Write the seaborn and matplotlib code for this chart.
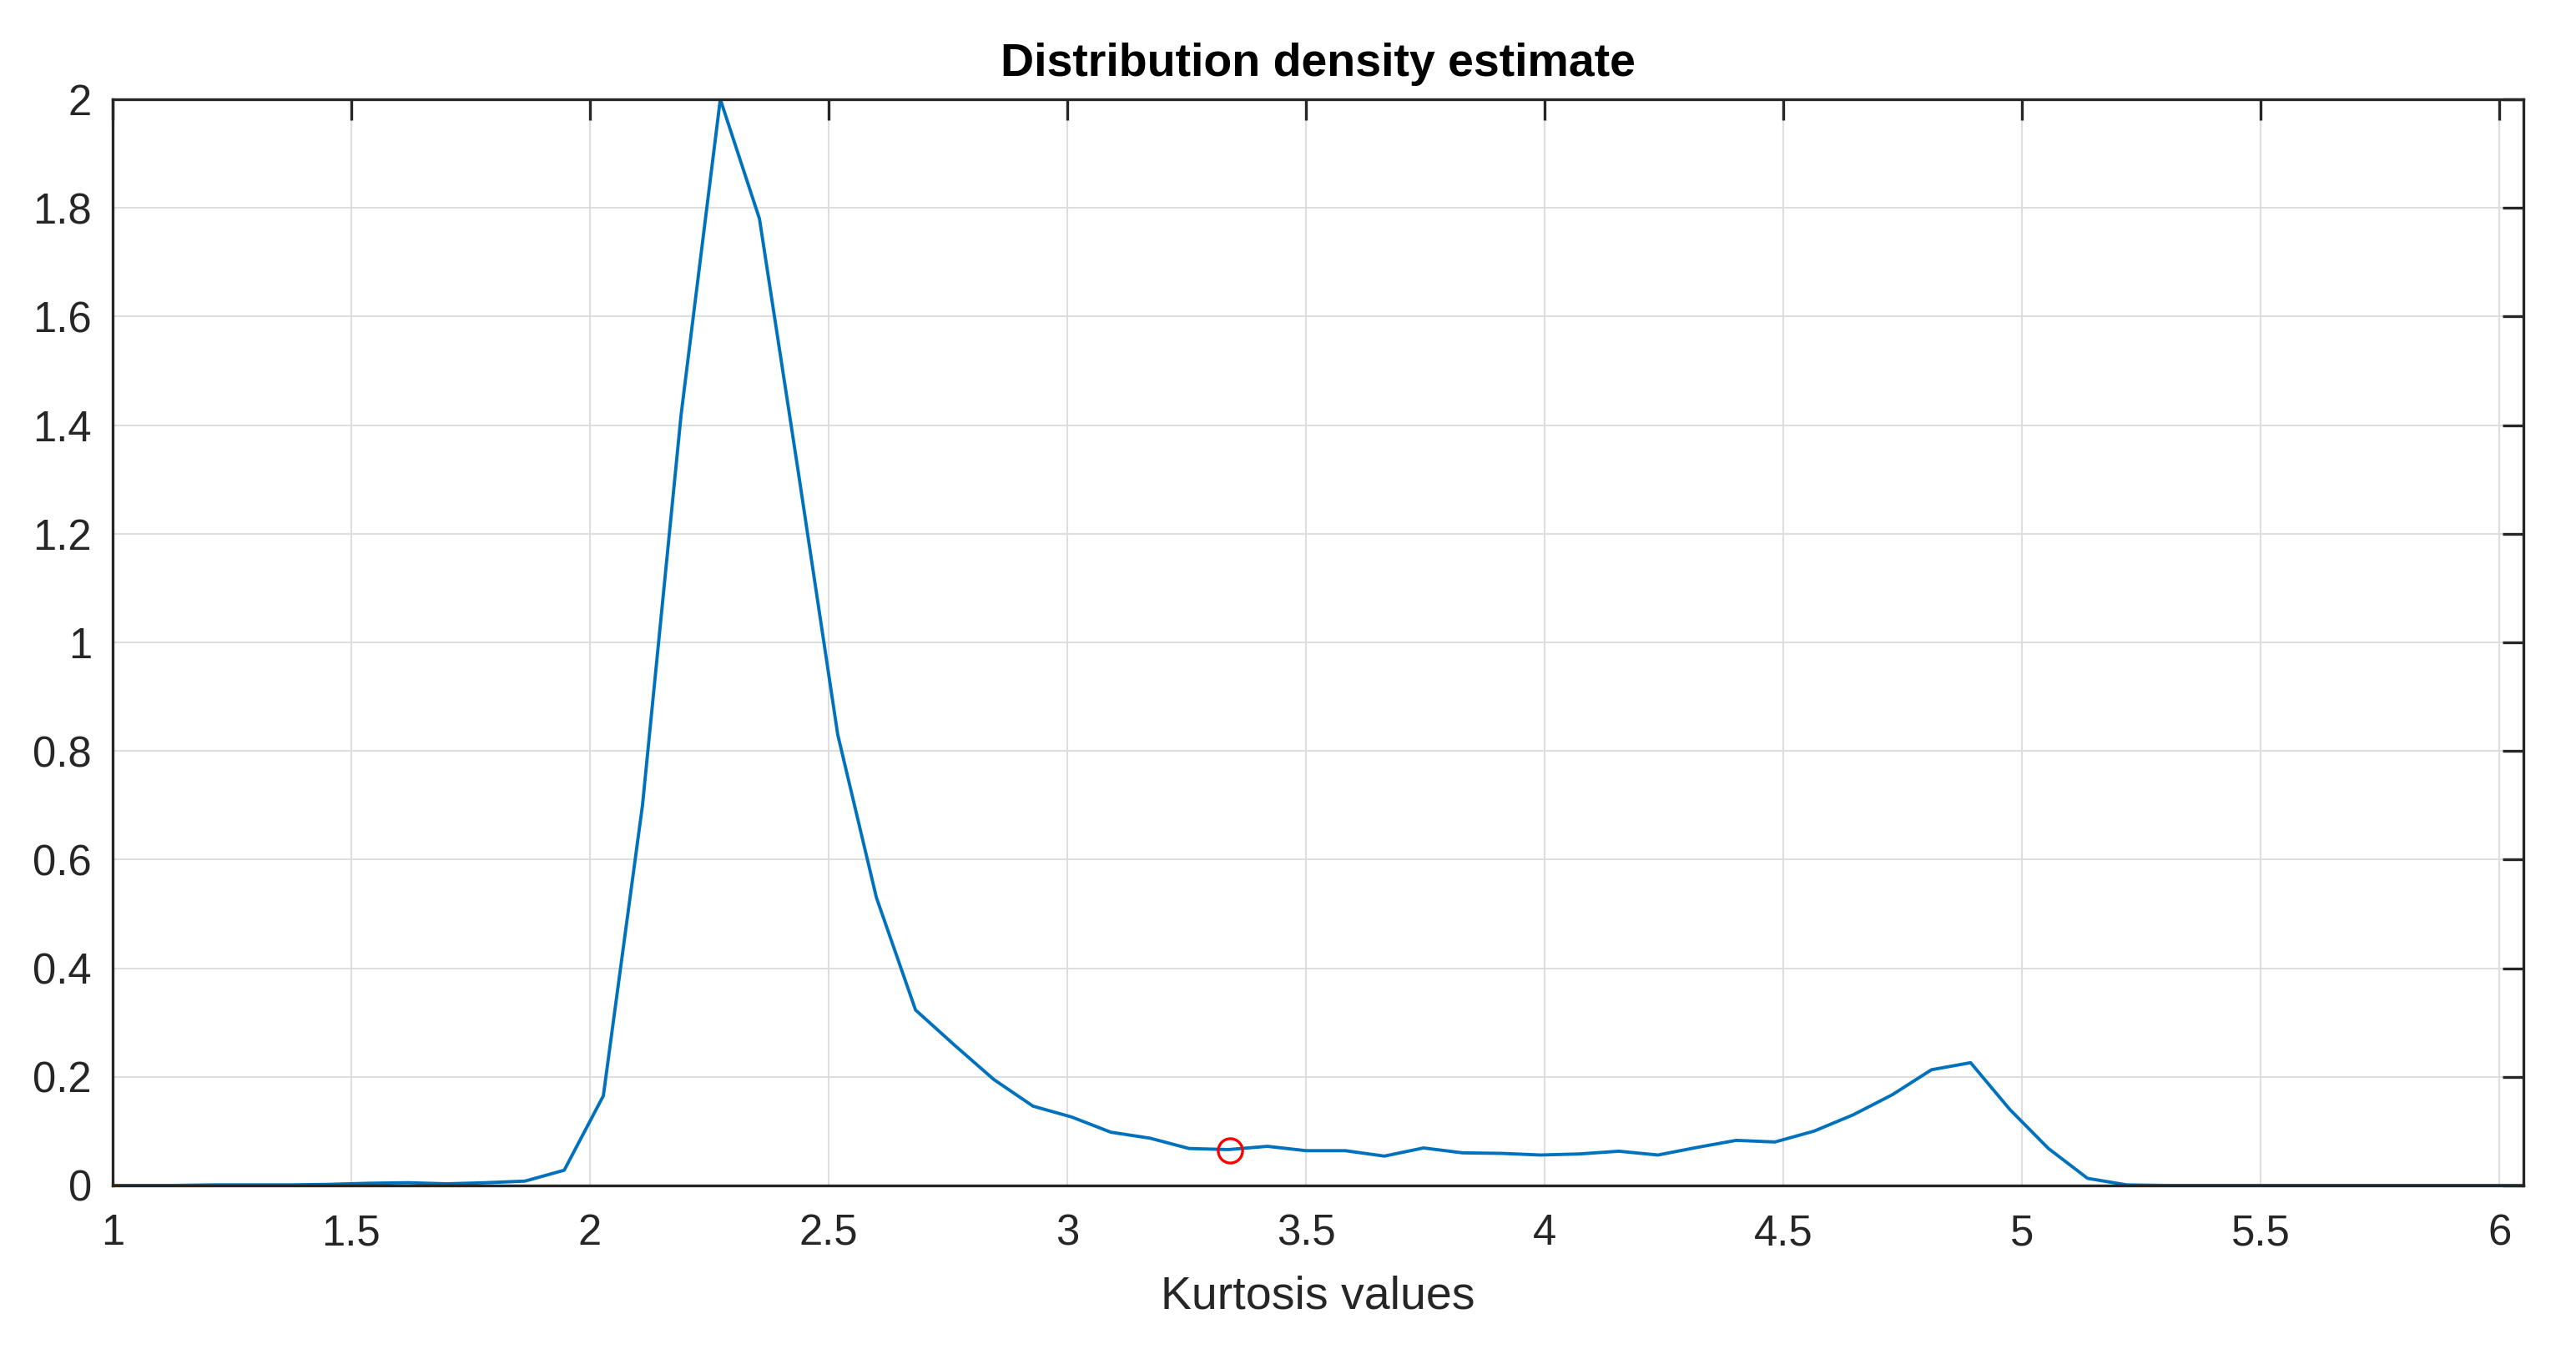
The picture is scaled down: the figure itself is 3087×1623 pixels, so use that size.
import seaborn as sns
import matplotlib.pyplot as plt
import matplotlib.ticker as mticker
import pandas as pd

# Density estimate (kurtosis grid, step ~0.082)
kurtosis = [0.964, 1.046, 1.128, 1.209, 1.291, 1.373, 1.455, 1.537, 1.619, 1.700,
            1.782, 1.864, 1.946, 2.028, 2.110, 2.191, 2.273, 2.355, 2.437, 2.519,
            2.600, 2.682, 2.764, 2.846, 2.928, 3.009, 3.091, 3.173, 3.255, 3.337,
            3.419, 3.500, 3.582, 3.664, 3.746, 3.828, 3.910, 3.991, 4.073, 4.155,
            4.237, 4.319, 4.401, 4.482, 4.564, 4.646, 4.728, 4.810, 4.892, 4.974,
            5.055, 5.137, 5.219, 5.301, 5.383, 5.465, 5.546, 5.628, 5.710, 5.792,
            5.874, 5.956, 6.037, 6.119]
density = [0.000, 0.000, 0.000, 0.001, 0.001, 0.001, 0.002, 0.004, 0.005, 0.003,
           0.005, 0.008, 0.028, 0.165, 0.700, 1.420, 2.000, 1.780, 1.310, 0.830,
           0.530, 0.323, 0.258, 0.195, 0.146, 0.126, 0.098, 0.087, 0.068, 0.066,
           0.072, 0.064, 0.064, 0.054, 0.069, 0.060, 0.059, 0.056, 0.058, 0.063,
           0.056, 0.070, 0.083, 0.080, 0.100, 0.130, 0.167, 0.213, 0.226, 0.140,
           0.068, 0.013, 0.001, 0.000, 0.000, 0.000, 0.000, 0.000, 0.000, 0.000,
           0.000, 0.000, 0.000, 0.000]

# highlighted sample
marked_x = [3.34]
marked_y = [0.065]

x_ticks = [1, 1.5, 2, 2.5, 3, 3.5, 4, 4.5, 5, 5.5, 6]
y_ticks = [0, 0.2, 0.4, 0.6, 0.8, 1, 1.2, 1.4, 1.6, 1.8, 2]

df = pd.DataFrame({'kurtosis': kurtosis, 'density': density})

sns.set_style("white")
plt.rcParams['font.family'] = ['Liberation Sans', 'DejaVu Sans']

dark = '#262626'
fig = plt.figure(figsize=(15.435, 8.115), dpi=200)
ax = fig.add_axes([0.0437, 0.1245, 0.9359, 0.8022])

sns.lineplot(data=df, x='kurtosis', y='density', color='#0072BD',
             linewidth=1.4, estimator=None, sort=False, ax=ax)
sns.lineplot(x=marked_x, y=marked_y, estimator=None, marker='o', linestyle='',
             markersize=10.5, markerfacecolor='none', markeredgecolor='#FF0000',
             markeredgewidth=1.2, ax=ax)

ax.set_xlim(1, 6.05)
ax.set_ylim(0, 2)
ax.set_xticks(x_ticks)
ax.set_yticks(y_ticks)
fmt = mticker.FuncFormatter(lambda v, p: f"{v:g}")
ax.xaxis.set_major_formatter(fmt)
ax.yaxis.set_major_formatter(fmt)

ax.grid(True, color='#DEDEDE', linewidth=0.75)
ax.set_axisbelow(True)
for s in ax.spines.values():
    s.set_visible(True)
    s.set_color(dark)
    s.set_linewidth(1.2)
ax.tick_params(axis='both', which='major', direction='in', length=9, width=1.2,
               color=dark, labelcolor=dark, labelsize=18.3,
               top=True, right=True)
ax.tick_params(axis='x', pad=12)
ax.tick_params(axis='y', pad=9)

ax.set_xlabel('Kurtosis values', fontsize=20, color=dark, labelpad=9)
ax.set_ylabel('')
ax.set_title('Distribution density estimate', fontsize=20, fontweight='bold',
             color='black', pad=10)

fig.savefig('out.png', dpi=200, facecolor='white')
plt.close('all')
